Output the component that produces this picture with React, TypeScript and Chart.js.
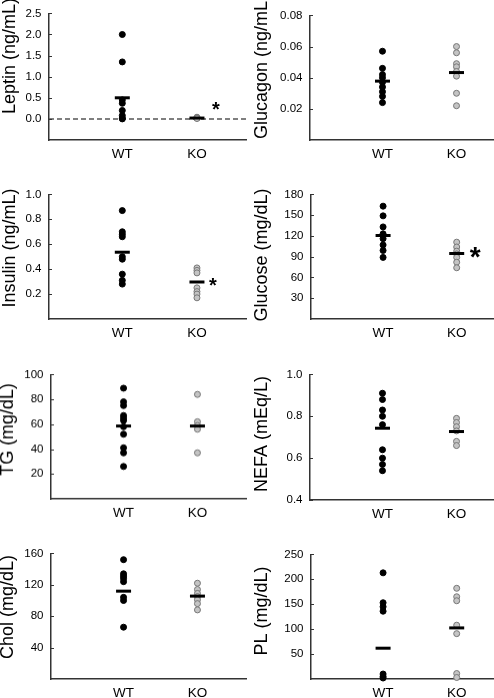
import React, { useEffect, useRef } from 'react';
import { Chart, registerables } from 'chart.js';

Chart.register(...registerables);

const FONT = '"Liberation Sans", Arial, Helvetica, sans-serif';

// ---- data ----
const groups = ['WT', 'KO'];

const leptinWT = [2.0, 1.35, 0.45, 0.37, 0.2, 0.08, 0.02, 0.0];
const leptinKO = [0.04, 0.03, 0.02, 0.02, 0.01];
const leptinMeans = [0.5, 0.02];
const leptinTicks = [0, 0.5, 1.0, 1.5, 2.0, 2.5];

const glucagonWT = [0.057, 0.046, 0.042, 0.040, 0.037, 0.034, 0.031, 0.028, 0.024];
const glucagonKO = [0.060, 0.056, 0.049, 0.047, 0.044, 0.041, 0.030, 0.022];
const glucagonMeans = [0.0378, 0.0433];
const glucagonTicks = [0.02, 0.04, 0.06, 0.08];

const insulinWT = [0.87, 0.70, 0.68, 0.66, 0.50, 0.48, 0.36, 0.31, 0.28];
const insulinKO = [0.41, 0.39, 0.37, 0.25, 0.22, 0.20, 0.17];
const insulinMeans = [0.536, 0.297];
const insulinTicks = [0.2, 0.4, 0.6, 0.8, 1.0];

const glucoseWT = [163, 149, 133, 123, 116, 107, 99, 89];
const glucoseKO = [111, 104, 98, 94, 89, 82, 74];
const glucoseMeans = [120.6, 94.6];
const glucoseTicks = [30, 60, 90, 120, 150, 180];

const tgWT = [89, 78, 75, 67, 65, 63, 58, 52, 41, 37, 26];
const tgKO = [84, 62, 59, 56, 37];
const tgMeans = [58.6, 58.6];
const tgTicks = [20, 40, 60, 80, 100];

const nefaWT = [0.91, 0.88, 0.83, 0.80, 0.76, 0.64, 0.60, 0.57, 0.54];
const nefaKO = [0.79, 0.77, 0.75, 0.73, 0.68, 0.66];
const nefaMeans = [0.743, 0.727];
const nefaTicks = [0.4, 0.6, 0.8, 1.0];

const cholWT = [152, 134, 131, 128, 124, 104, 100, 66];
const cholKO = [122, 114, 109, 105, 101, 96, 88];
const cholMeans = [111.9, 105.6];
const cholTicks = [40, 80, 120, 160];

const plWT = [213, 153, 145, 136, 10, 5, 2];
const plKO = [182, 165, 157, 108, 91, 11, 3];
const plMeans = [61.8, 102.5];
const plTicks = [50, 100, 150, 200, 250];

// ---- layout (page coordinates) ----
type Cfg = {
  title: string; wt: number[]; ko: number[]; means: number[]; ticks: number[]; dec: number;
  min: number; max: number; col: number; x0: number; y0: number; y1: number;
  tx: number; ty: number; zero?: boolean; star?: { dx: number; dy: number; size: number };
};

const panels: Cfg[] = [
  { title: 'Leptin (ng/mL)', wt: leptinWT, ko: leptinKO, means: leptinMeans, ticks: leptinTicks, dec: 1,
    min: -0.5, max: 2.5, col: 0, x0: 49, y0: 11, y1: 140, tx: 15, ty: 56, zero: true,
    star: { dx: 19, dy: -8, size: 20 } },
  { title: 'Glucagon (ng/mL)', wt: glucagonWT, ko: glucagonKO, means: glucagonMeans, ticks: glucagonTicks, dec: 2,
    min: 0, max: 0.08, col: 247, x0: 310, y0: 13, y1: 140, tx: 267, ty: 67 },
  { title: 'Insulin (ng/mL)', wt: insulinWT, ko: insulinKO, means: insulinMeans, ticks: insulinTicks, dec: 1,
    min: 0, max: 1.0, col: 0, x0: 49, y0: 192, y1: 319, tx: 15, ty: 248,
    star: { dx: 16, dy: 4, size: 20 } },
  { title: 'Glucose (mg/dL)', wt: glucoseWT, ko: glucoseKO, means: glucoseMeans, ticks: glucoseTicks, dec: 0,
    min: 0, max: 180, col: 247, x0: 311, y0: 192, y1: 319, tx: 267, ty: 255,
    star: { dx: 18.5, dy: 5, size: 28 } },
  { title: 'TG (mg/dL)', wt: tgWT, ko: tgKO, means: tgMeans, ticks: tgTicks, dec: 0,
    min: 0, max: 100, col: 0, x0: 51, y0: 372, y1: 498.5, tx: 13, ty: 429 },
  { title: 'NEFA (mEq/L)', wt: nefaWT, ko: nefaKO, means: nefaMeans, ticks: nefaTicks, dec: 1,
    min: 0.4, max: 1.0, col: 247, x0: 310, y0: 372, y1: 500, tx: 267, ty: 434 },
  { title: 'Chol (mg/dL)', wt: cholWT, ko: cholKO, means: cholMeans, ticks: cholTicks, dec: 0,
    min: 0, max: 160, col: 0, x0: 51, y0: 551, y1: 679, tx: 13, ty: 607 },
  { title: 'PL (mg/dL)', wt: plWT, ko: plKO, means: plMeans, ticks: plTicks, dec: 0,
    min: 0, max: 250, col: 247, x0: 311, y0: 552, y1: 679, tx: 267, ty: 611 },
];

const PAD_TOP = 12;
const XAXIS_H = 30;
const AXIS_COLOR = '#333';

function Panel({ cfg }: { cfg: Cfg }) {
  const ref = useRef<HTMLCanvasElement>(null);
  const left = cfg.col;
  const top = cfg.y0 - PAD_TOP;
  const w = 247;
  const h = (cfg.y1 - cfg.y0) + PAD_TOP + XAXIS_H;
  const xMin = cfg.col === 0 ? 0.018 : 0.021;
  const xMax = cfg.col === 0 ? 2.657 : 2.493;

  useEffect(() => {
    const decor = {
      id: 'decor',
      beforeDatasetsDraw(chart: any) {
        if (!cfg.zero) return;
        const { ctx, chartArea, scales } = chart;
        const y = scales.y.getPixelForValue(0);
        ctx.save();
        ctx.strokeStyle = '#555';
        ctx.lineWidth = 1.5;
        ctx.setLineDash([5, 3]);
        ctx.beginPath();
        ctx.moveTo(chartArea.left, y);
        ctx.lineTo(chartArea.right, y);
        ctx.stroke();
        ctx.restore();
      },
      afterDraw(chart: any) {
        const { ctx, chartArea, scales } = chart;
        ctx.save();
        ctx.strokeStyle = AXIS_COLOR;
        ctx.lineWidth = 1;
        cfg.ticks.forEach((v) => {
          const py = Math.round(scales.y.getPixelForValue(v)) + 0.5;
          ctx.beginPath();
          ctx.moveTo(chartArea.left, py);
          ctx.lineTo(chartArea.left + 3, py);
          ctx.stroke();
        });
        ctx.translate(cfg.tx - left, cfg.ty - top);
        ctx.rotate(-Math.PI / 2);
        ctx.font = `18px ${FONT}`;
        ctx.fillStyle = '#000';
        ctx.textAlign = 'center';
        ctx.textBaseline = 'alphabetic';
        ctx.fillText(cfg.title, 0, 0);
        ctx.restore();
        if (cfg.star) {
          const sx = scales.x.getPixelForValue(2) + cfg.star.dx;
          const sy = scales.y.getPixelForValue(cfg.means[1]) + cfg.star.dy;
          ctx.save();
          ctx.font = `bold ${cfg.star.size}px ${FONT}`;
          ctx.fillStyle = '#000';
          ctx.textAlign = 'center';
          ctx.textBaseline = 'middle';
          ctx.fillText('*', sx, sy);
          ctx.restore();
        }
      },
    };

    const chart = new Chart(ref.current as HTMLCanvasElement, {
      type: 'scatter',
      data: {
        datasets: [
          {
            label: 'mean',
            data: cfg.means.map((m, i) => ({ x: i + 1, y: m })),
            pointStyle: 'line',
            pointRadius: 7.5,
            pointBorderWidth: 3,
            pointBorderColor: '#000',
            pointBackgroundColor: '#000',
            clip: false,
          } as any,
          {
            label: groups[0],
            data: cfg.wt.map((v) => ({ x: 1, y: v })),
            pointRadius: 3,
            pointBorderWidth: 1,
            pointBackgroundColor: '#000',
            pointBorderColor: '#000',
            clip: false,
          } as any,
          {
            label: groups[1],
            data: cfg.ko.map((v) => ({ x: 2, y: v })),
            pointRadius: 3,
            pointBorderWidth: 1,
            pointBackgroundColor: '#c4c4c4',
            pointBorderColor: '#777',
            clip: false,
          } as any,
        ],
      },
      options: {
        responsive: false,
        animation: false,
        events: [],
        layout: { autoPadding: false, padding: { top: PAD_TOP, right: 1, left: 0, bottom: 0 } },
        plugins: { legend: { display: false }, tooltip: { enabled: false } },
        scales: {
          x: {
            type: 'linear',
            min: xMin,
            max: xMax,
            afterBuildTicks: (s: any) => { s.ticks = [{ value: 1 }, { value: 2 }]; },
            afterFit: (s: any) => { s.height = XAXIS_H; },
            ticks: {
              callback: (_v: any, i: number) => groups[i],
              font: { family: FONT, size: 13.5 },
              color: '#000',
              padding: 6,
              autoSkip: false,
              maxRotation: 0,
            },
            grid: { display: false, drawTicks: false },
            border: { display: true, color: AXIS_COLOR, width: 1.5 },
          },
          y: {
            type: 'linear',
            min: cfg.min,
            max: cfg.max,
            afterBuildTicks: (s: any) => { s.ticks = cfg.ticks.map((v) => ({ value: v })); },
            afterFit: (s: any) => { s.width = cfg.x0 - cfg.col; },
            ticks: {
              callback: (v: any) => Number(v).toFixed(cfg.dec),
              font: { family: FONT, size: 11.5 },
              color: '#000',
              padding: 7.5,
              autoSkip: false,
            },
            grid: { display: false, drawTicks: false },
            border: { display: true, color: AXIS_COLOR, width: 1.5 },
          },
        },
      } as any,
      plugins: [decor],
    });
    return () => chart.destroy();
  }, []);

  return (
    <div style={{ position: 'absolute', left, top, width: w, height: h }}>
      <canvas ref={ref} width={w} height={h} style={{ display: 'block', width: w, height: h }} />
    </div>
  );
}

export default function App() {
  return (
    <div style={{ position: 'absolute', left: 0, top: 0, width: 494, height: 698, overflow: 'hidden', background: '#fff' }}>
      {panels.map((p, i) => (
        <Panel key={i} cfg={p} />
      ))}
    </div>
  );
}
